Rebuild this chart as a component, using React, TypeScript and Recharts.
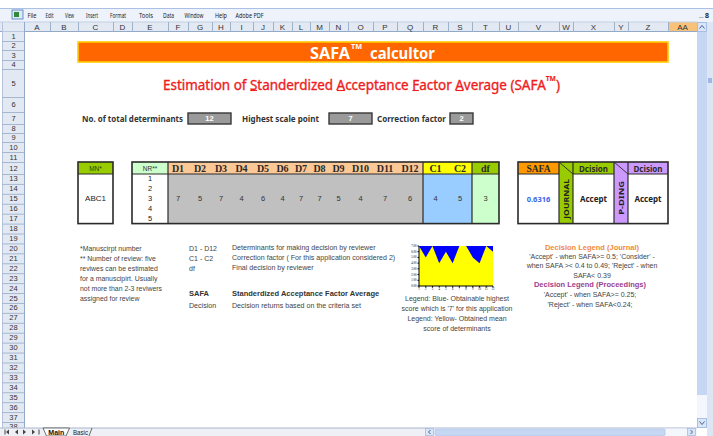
import React, { useLayoutEffect, useRef, useState } from 'react';
import { AreaChart, Area, XAxis, YAxis } from 'recharts';

// ---------- data ----------
const determinants = ['D1', 'D2', 'D3', 'D4', 'D5', 'D6', 'D7', 'D8', 'D9', 'D10', 'D11', 'D12'];
const obtainedScores = [7, 5, 7, 4, 6, 4, 7, 7, 5, 4, 7, 6];
const highestScores = [7, 7, 7, 7, 7, 7, 7, 7, 7, 7, 7, 7];
const chartPoints = ['1', '2', '3', '4', '5', '6', '7', '8', '9', '10', '11', '12'];
const yTicks = [0, 1, 2, 3, 4, 5, 6, 7];
const correctionLabels = ['C1', 'C2'];
const correctionValues = [4, 5];
const dfValue = 3;
const reviewNumbers = [1, 2, 3, 4, 5];
const manuscript = 'ABC1';
const safaValue = '0.6316';
const decisions = ['Accept', 'Accept'];
const totalDeterminants = 12;
const highestScale = 7;
const correctionFactor = 2;
const menuItems = ['File', 'Edit', 'View', 'Insert', 'Format', 'Tools', 'Data', 'Window', 'Help', 'Adobe PDF'];
const columnLetters = ['A', 'B', 'C', 'D', 'E', 'F', 'G', 'H', 'I', 'J', 'K', 'L', 'M', 'N', 'O', 'P', 'Q', 'R', 'S', 'T', 'U', 'V', 'W', 'X', 'Y', 'Z', 'AA'];
const titleText = 'Estimation of Standerdized Acceptance Factor Average (SAFA';
const titleUnderlinedChars = [14, 27, 38, 45];
const leftNotes = ['*Manuscirpt number', '** Number of review: five', 'reviwes can be estimated', 'for a manuscipirt. Usually', 'not more than 2-3 reviwers', 'assigned for review'];
const termKeys = ['D1 - D12', 'C1 - C2', 'df'];
const termTexts = ['Determinants for making decision by reviewer', 'Correction factor ( For this application considered 2)', 'Final decision by reviewer'];
const chartLegend = ['Legend: Blue- Obtainable highest', "score which is '7' for this application", 'Legend: Yellow- Obtained mean', 'score of determinants'];
const journalLegend = ["'Accept' - when SAFA>= 0.5; 'Consider' -", "when SAFA >< 0.4 to 0.49; 'Reject' - when", 'SAFA< 0.39'];
const proceedingsLegend = ["'Accept' - when SAFA>= 0.25;", "'Reject' - when SAFA<0.24;"];

// ---------- layout helpers ----------
const COL_EDGES = [24, 50, 78, 113, 132, 168, 188, 212, 230, 253, 273, 292, 310, 329, 348, 373, 397, 423, 448, 472, 499, 518, 559, 573, 614, 628, 668, 697];
const TOP_ROWS = [31, 41, 50, 60, 69, 97, 112, 124, 133, 142, 152, 162];
const rowTop = (n: number) => (n <= 12 ? TOP_ROWS[n - 1] : 174 + (n - 13) * 9.92);
const rowMid = (n: number) => (rowTop(n) + rowTop(n + 1)) / 2;
const colMid = (i: number) => (COL_EDGES[i] + COL_EDGES[i + 1]) / 2;

const ARIAL = '"Liberation Sans", Arial, sans-serif';
const TAHOMA = '"Noto Sans", "DejaVu Sans", sans-serif';
const SERIF = '"Liberation Serif", serif';

type TP = {
  x: number; y: number; children: React.ReactNode; size?: number; w?: number;
  anchor?: 'start' | 'middle' | 'end'; weight?: string; fill?: string; family?: string;
};
function T({ x, y, children, size = 7, w, anchor = 'start', weight = 'normal', fill = '#333', family = ARIAL }: TP) {
  return (
    <text x={x} y={y} fontSize={size} fontFamily={family} fontWeight={weight} fill={fill}
      textAnchor={anchor} dominantBaseline="central"
      {...(w ? { textLength: w, lengthAdjust: 'spacingAndGlyphs' } : {})}>
      {children}
    </text>
  );
}

const chartData = chartPoints.map((p, i) => ({ point: p, highest: highestScores[i], obtained: obtainedScores[i] }));

const menuPos: [number, number][] = [[32, 9], [49.5, 8], [69.5, 9], [92, 12], [118, 16], [146, 14], [168.5, 11], [194, 19], [221, 12], [249.5, 28]];

export default function App() {
  const titleRef = useRef<SVGTextElement>(null);
  const [underlines, setUnderlines] = useState<[number, number][]>([]);

  useLayoutEffect(() => {
    const measure = () => {
      const el = titleRef.current;
      if (!el) return;
      try {
        setUnderlines(titleUnderlinedChars.map((i) => {
          const e = el.getExtentOfChar(i);
          return [e.x + 0.3, e.x + e.width - 0.3] as [number, number];
        }));
      } catch (err) { /* ignore */ }
    };
    measure();
    if ((document as any).fonts && (document as any).fonts.ready) (document as any).fonts.ready.then(measure);
  }, []);

  const rows: number[] = [];
  for (let r = 1; r <= 38; r++) rows.push(r);
  const tblTop = rowTop(12);
  const hdrBot = rowTop(13);
  const tblBot = rowTop(18);
  const bodyMid = rowMid(15);
  const border = '#2a2a2a';
  const red = '#ee1c1c';

  return (
    <div style={{ position: 'fixed', left: 0, top: 0, width: 713, height: 436, background: '#fff', overflow: 'hidden' }}>
      <svg width={713} height={436} style={{ position: 'absolute', left: 0, top: 0 }}>
        {/* menu bar */}
        <rect x={0} y={0} width={713} height={8} fill="#fff" />
        <rect x={0} y={8} width={713} height={14} fill="#eef2fa" />
        <line x1={0} y1={8.5} x2={713} y2={8.5} stroke="#aac0e4" />
        <rect x={12} y={10} width={11} height={9} fill="#dfe9f7" stroke="#4a7ab8" strokeWidth={0.8} />
        <rect x={14} y={12} width={5} height={5} fill="#2e8b3a" />
        {menuItems.map((m, i) => (
          <T key={m} x={menuPos[i][0]} y={15} size={7.5} w={menuPos[i][1]} anchor="middle" fill="#222" family={TAHOMA}>{m}</T>
        ))}
        <T x={699} y={14} size={8} fill="#222" weight="bold">_</T>
        <T x={705} y={15} size={7} fill="#222" weight="bold">8</T>

        {/* column header row */}
        <rect x={0} y={22} width={697} height={9.5} fill="#e3e9f3" />
        <rect x={COL_EDGES[26]} y={22} width={697 - COL_EDGES[26]} height={9.5} fill="#f9c27a" />
        <line x1={0} y1={31.5} x2={697} y2={31.5} stroke="#93a9c8" />
        <line x1={0} y1={22} x2={697} y2={22} stroke="#c3d0e4" />
        {COL_EDGES.map((e) => (
          <line key={'ce' + e} x1={e + 0.5} y1={22} x2={e + 0.5} y2={31.5} stroke="#9fb2cc" />
        ))}
        {columnLetters.map((c, i) => (
          <T key={c} x={colMid(i)} y={27} size={8} anchor="middle" fill="#333">{c}</T>
        ))}

        {/* row header column */}
        <rect x={2} y={31.5} width={22} height={400} fill="#e3e9f3" />
        <line x1={24.5} y1={22} x2={24.5} y2={428} stroke="#93a9c8" />
        <line x1={2.5} y1={22} x2={2.5} y2={428} stroke="#b5c4dc" />
        {rows.map((r) => (
          <g key={'r' + r}>
            <line x1={2} y1={rowTop(r + 1) + 0.5} x2={24} y2={rowTop(r + 1) + 0.5} stroke="#a6b7cf" />
            <T x={13.5} y={rowMid(r)} size={7.5} anchor="middle" fill="#333">{r}</T>
          </g>
        ))}

        {/* banner */}
        <rect x={78} y={42} width={590} height={20} fill="#ff6600" stroke="#ffcc00" strokeWidth={1.6} />
        <T x={310} y={52.5} size={16} w={40} weight="bold" fill="#fff" family={TAHOMA}>SAFA</T>
        <T x={351} y={46} size={7} w={11} weight="bold" fill="#fff" family={TAHOMA}>TM</T>
        <T x={370} y={52.5} size={16} w={65} weight="bold" fill="#fff" family={TAHOMA}>calcultor</T>

        {/* title */}
        <text ref={titleRef} x={163} y={84} fontSize={14} fontFamily={TAHOMA} fill={red} stroke={red} strokeWidth={0.35}
          dominantBaseline="central" textLength={397} lengthAdjust="spacingAndGlyphs">
          {titleText}<tspan fontSize={7} fontWeight="bold" strokeWidth={0.1} dy={-6}>TM</tspan><tspan dy={6}>)</tspan>
        </text>
        {underlines.map(([a, b], i) => (
          <line key={'u' + i} x1={a} y1={90.5} x2={b} y2={90.5} stroke={red} strokeWidth={1.1} />
        ))}

        {/* row 7 parameters */}
        <T x={82} y={118.5} size={8} w={101} weight="bold" fill="#333" family={TAHOMA}>No. of total determinants</T>
        <rect x={188} y={113} width={43} height={11} fill="#9a9a9a" stroke="#383838" strokeWidth={1.4} />
        <T x={209.5} y={118.5} size={7.5} anchor="middle" weight="bold" fill="#fff">{totalDeterminants}</T>
        <T x={242} y={118.5} size={8} w={77} weight="bold" fill="#333" family={TAHOMA}>Highest scale point</T>
        <rect x={329} y={113} width={43} height={11} fill="#9a9a9a" stroke="#383838" strokeWidth={1.4} />
        <T x={350.5} y={118.5} size={7.5} anchor="middle" weight="bold" fill="#fff">{highestScale}</T>
        <T x={377} y={118.5} size={8} w={69} weight="bold" fill="#333" family={TAHOMA}>Correction factor</T>
        <rect x={450} y={113} width={23} height={11} fill="#9a9a9a" stroke="#383838" strokeWidth={1.4} />
        <T x={461.5} y={118.5} size={7.5} anchor="middle" weight="bold" fill="#fff">{correctionFactor}</T>

        {/* table 1: MN */}
        <rect x={78} y={tblTop} width={35} height={hdrBot - tblTop} fill="#99cc00" />
        <rect x={78} y={hdrBot} width={35} height={tblBot - hdrBot} fill="#fff" />
        <line x1={78} y1={hdrBot} x2={113} y2={hdrBot} stroke={border} strokeWidth={1} />
        <rect x={78} y={tblTop} width={35} height={tblBot - tblTop} fill="none" stroke={border} strokeWidth={1.6} />
        <T x={95.5} y={(tblTop + hdrBot) / 2} size={6.5} anchor="middle" fill="#2c3a10">MN*</T>
        <T x={95.5} y={bodyMid} size={8} anchor="middle" fill="#222">{manuscript}</T>

        {/* table 2: determinants */}
        <rect x={132} y={tblTop} width={36} height={hdrBot - tblTop} fill="#ccffcc" />
        <rect x={132} y={hdrBot} width={36} height={tblBot - hdrBot} fill="#fff" />
        <rect x={168} y={tblTop} width={255} height={hdrBot - tblTop} fill="#fcc895" />
        <rect x={168} y={hdrBot} width={255} height={tblBot - hdrBot} fill="#c0c0c0" />
        <rect x={423} y={tblTop} width={49} height={hdrBot - tblTop} fill="#ffff00" />
        <rect x={423} y={hdrBot} width={49} height={tblBot - hdrBot} fill="#99ccff" />
        <rect x={472} y={tblTop} width={27} height={hdrBot - tblTop} fill="#99cc00" />
        <rect x={472} y={hdrBot} width={27} height={tblBot - hdrBot} fill="#ccffcc" />
        <line x1={132} y1={hdrBot} x2={499} y2={hdrBot} stroke={border} strokeWidth={1} />
        {[168, 423, 472].map((x) => (
          <line key={'v' + x} x1={x} y1={tblTop} x2={x} y2={tblBot} stroke={border} strokeWidth={1.2} />
        ))}
        <rect x={132} y={tblTop} width={367} height={tblBot - tblTop} fill="none" stroke={border} strokeWidth={1.6} />
        <T x={150} y={(tblTop + hdrBot) / 2} size={6.5} anchor="middle" fill="#333">NR**</T>
        {reviewNumbers.map((n, i) => (
          <T key={'nr' + n} x={150} y={rowMid(13 + i) - 0.5} size={7.5} anchor="middle" fill="#222">{n}</T>
        ))}
        {determinants.map((d, i) => (
          <T key={d} x={colMid(5 + i)} y={(tblTop + hdrBot) / 2 + 0.5} size={10} anchor="middle" weight="bold" fill="#2a2a2a" family={SERIF}>{d}</T>
        ))}
        {obtainedScores.map((v, i) => (
          <T key={'s' + i} x={colMid(5 + i)} y={bodyMid} size={7.5} anchor="middle" fill="#333">{v}</T>
        ))}
        {correctionLabels.map((c, i) => (
          <T key={c} x={colMid(17 + i)} y={(tblTop + hdrBot) / 2 + 0.5} size={10} anchor="middle" weight="bold" fill="#2a2a2a" family={SERIF}>{c}</T>
        ))}
        {correctionValues.map((v, i) => (
          <T key={'c' + i} x={colMid(17 + i)} y={bodyMid} size={7.5} anchor="middle" fill="#333">{v}</T>
        ))}
        <T x={colMid(19)} y={(tblTop + hdrBot) / 2 + 0.5} size={10} anchor="middle" weight="bold" fill="#2a2a2a" family={SERIF}>df</T>
        <T x={colMid(19)} y={bodyMid} size={7.5} anchor="middle" fill="#333">{dfValue}</T>

        {/* table 3: SAFA & decisions */}
        <rect x={518} y={tblTop} width={41} height={hdrBot - tblTop} fill="#ff9900" />
        <rect x={518} y={hdrBot} width={41} height={tblBot - hdrBot} fill="#fff" />
        <rect x={559} y={tblTop} width={55} height={hdrBot - tblTop} fill="#99cc00" />
        <rect x={559} y={hdrBot} width={14} height={tblBot - hdrBot} fill="#99cc00" />
        <rect x={573} y={hdrBot} width={41} height={tblBot - hdrBot} fill="#fff" />
        <rect x={614} y={tblTop} width={54} height={hdrBot - tblTop} fill="#cc99ff" />
        <rect x={614} y={hdrBot} width={14} height={tblBot - hdrBot} fill="#cc99ff" />
        <rect x={628} y={hdrBot} width={40} height={tblBot - hdrBot} fill="#fff" />
        <line x1={518} y1={hdrBot} x2={559} y2={hdrBot} stroke={border} strokeWidth={1} />
        <line x1={573} y1={hdrBot} x2={614} y2={hdrBot} stroke={border} strokeWidth={1} />
        <line x1={628} y1={hdrBot} x2={668} y2={hdrBot} stroke={border} strokeWidth={1} />
        <line x1={559} y1={tblTop} x2={573} y2={hdrBot} stroke={border} strokeWidth={0.9} />
        <line x1={614} y1={tblTop} x2={628} y2={hdrBot} stroke={border} strokeWidth={0.9} />
        {[559, 573, 614, 628].map((x) => (
          <line key={'w' + x} x1={x} y1={tblTop} x2={x} y2={tblBot} stroke={border} strokeWidth={1.2} />
        ))}
        <rect x={518} y={tblTop} width={150} height={tblBot - tblTop} fill="none" stroke={border} strokeWidth={1.6} />
        <T x={538.5} y={(tblTop + hdrBot) / 2 + 0.5} size={9.5} anchor="middle" weight="bold" fill="#2a2a2a" family={SERIF}>SAFA</T>
        <T x={538.5} y={bodyMid} size={7.5} anchor="middle" weight="bold" fill="#3a66e8" family={TAHOMA}>{safaValue}</T>
        <T x={593.5} y={(tblTop + hdrBot) / 2} size={8} anchor="middle" weight="bold" fill="#2a2a2a" family={TAHOMA}>Dcision</T>
        <T x={648} y={(tblTop + hdrBot) / 2} size={8} anchor="middle" weight="bold" fill="#2a2a2a" family={TAHOMA}>Dcision</T>
        <T x={593.5} y={bodyMid} size={8} anchor="middle" weight="bold" fill="#222" family={TAHOMA}>{decisions[0]}</T>
        <T x={648} y={bodyMid} size={8} anchor="middle" weight="bold" fill="#222" family={TAHOMA}>{decisions[1]}</T>
        <g transform={`translate(566.5,${bodyMid}) rotate(-90)`}>
          <T x={0} y={0} size={7} w={40} anchor="middle" weight="bold" fill="#222" family={TAHOMA}>JOURNAL</T>
        </g>
        <g transform={`translate(621.5,${bodyMid - 1}) rotate(-90)`}>
          <T x={0} y={0} size={7} w={34} anchor="middle" weight="bold" fill="#222" family={TAHOMA}>P-DING</T>
        </g>

        {/* notes left */}
        {leftNotes.map((t, i) => (
          <T key={t} x={80} y={rowMid(20 + i)} size={6.9} fill="#444">{t}</T>
        ))}
        {termKeys.map((t, i) => (
          <T key={t} x={189} y={rowMid(20 + i)} size={7} fill="#444">{t}</T>
        ))}
        {termTexts.map((t, i) => (
          <T key={t} x={232} y={rowMid(20 + i)} size={7.1} fill="#444">{t}</T>
        ))}
        <T x={189} y={293.5} size={7.5} weight="bold" fill="#333">SAFA</T>
        <T x={232} y={293.5} size={7.5} weight="bold" fill="#333">Standerdized Acceptance Factor Average</T>
        <T x={189} y={305.5} size={7.1} fill="#444">Decision</T>
        <T x={232} y={305.5} size={7.1} fill="#444">Decision returns based on the criteria set</T>

        {/* chart legend */}
        {chartLegend.map((t, i) => (
          <T key={t} x={457} y={298 + i * 10} size={7} anchor="middle" fill="#444">{t}</T>
        ))}

        {/* decision legend */}
        <T x={592} y={247} size={7.5} anchor="middle" weight="bold" fill="#f08a3c">Decision Legend (Journal)</T>
        {journalLegend.map((t, i) => (
          <T key={t} x={592} y={256.5 + i * 9.3} size={7} anchor="middle" fill="#444">{t}</T>
        ))}
        <T x={590} y={284.5} size={7.5} anchor="middle" weight="bold" fill="#9b3d8e">Decision Legend (Proceedings)</T>
        {proceedingsLegend.map((t, i) => (
          <T key={t} x={590} y={294.5 + i * 9.5} size={7} anchor="middle" fill="#444">{t}</T>
        ))}

        {/* vertical scrollbar */}
        <rect x={697} y={22} width={10} height={406} fill="#c6d7f3" />
        <rect x={697} y={395} width={10} height={24} fill="#f3f6fc" />
        <rect x={697.5} y={22.5} width={9} height={9} fill="#d9e5f8" stroke="#9db6e0" strokeWidth={0.8} />
        <polyline points="699.5,28.5 702,25.5 704.5,28.5" fill="none" stroke="#4d6185" strokeWidth={1} />
        <rect x={697.5} y={418.5} width={9} height={9} fill="#d9e5f8" stroke="#9db6e0" strokeWidth={0.8} />
        <polyline points="699.5,421.5 702,424.5 704.5,421.5" fill="none" stroke="#4d6185" strokeWidth={1} />
        <rect x={707} y={22} width={6} height={414} fill="#dbe5f4" />
        <rect x={708} y={78} width={4} height={5} fill="#9fb8e2" />

        {/* bottom tab bar */}
        <rect x={0} y={428} width={697} height={8} fill="#eef0f5" />
        <line x1={0} y1={428} x2={697} y2={428} stroke="#a9b6cc" />
        {[5, 14, 23, 32].map((x, i) => (
          <polygon key={'nav' + x} points={i < 2 ? `${x + 4},429.5 ${x + 4},434.5 ${x + 1},432` : `${x},429.5 ${x},434.5 ${x + 3},432`} fill="#444" />
        ))}
        <line x1={5} y1={429.5} x2={5} y2={434.5} stroke="#444" />
        <line x1={39} y1={429.5} x2={39} y2={434.5} stroke="#444" />
        <polygon points="43,428 46.5,436 66,436 69.5,428" fill="#fff" stroke="#333" strokeWidth={0.7} />
        <T x={56.3} y={432} size={6.8} w={16} weight="bold" anchor="middle" fill="#111">Main</T>
        <T x={80.5} y={432} size={6.8} w={15} anchor="middle" fill="#222">Basic</T>
        <line x1={89} y1={436} x2={92} y2={428} stroke="#333" strokeWidth={0.7} />
        <rect x={425} y={428.5} width={272} height={7.5} fill="#f3f6fb" />
        <rect x={425.5} y={428.5} width={8} height={7} fill="#d9e5f8" stroke="#9db6e0" strokeWidth={0.7} />
        <polyline points="430.5,430 428.5,432 430.5,434" fill="none" stroke="#4d6185" />
        <rect x={435} y={429} width={230} height={6.5} rx={1} fill="#c6d7f3" stroke="#a9c0e6" strokeWidth={0.6} />
        <rect x={687.5} y={428.5} width={8} height={7} fill="#d9e5f8" stroke="#9db6e0" strokeWidth={0.7} />
        <polyline points="690.5,430 692.5,432 690.5,434" fill="none" stroke="#4d6185" />
      </svg>

      <div style={{ position: 'absolute', left: 395, top: 240, width: 104, height: 54 }}>
        <AreaChart width={104} height={54} data={chartData} margin={{ top: 6, right: 6, bottom: 0, left: 0 }}>
          <XAxis dataKey="point" interval={0} height={8} tickSize={1.5} tickMargin={0.5}
            tick={{ fontSize: 3, fill: '#000' }} axisLine={{ stroke: '#000' }} tickLine={{ stroke: '#000' }} />
          <YAxis domain={[0, 7]} ticks={yTicks} interval={0} width={24} tickSize={1.5} tickMargin={1}
            tickFormatter={(v: number) => v.toFixed(2)}
            tick={{ fontSize: 3, fill: '#000' }} axisLine={{ stroke: '#000' }} tickLine={{ stroke: '#000' }} />
          <Area dataKey="highest" type="linear" fill="#0000ff" fillOpacity={1} stroke="none" isAnimationActive={false} />
          <Area dataKey="obtained" type="linear" fill="#ffff00" fillOpacity={1} stroke="none" isAnimationActive={false} />
        </AreaChart>
      </div>
    </div>
  );
}
